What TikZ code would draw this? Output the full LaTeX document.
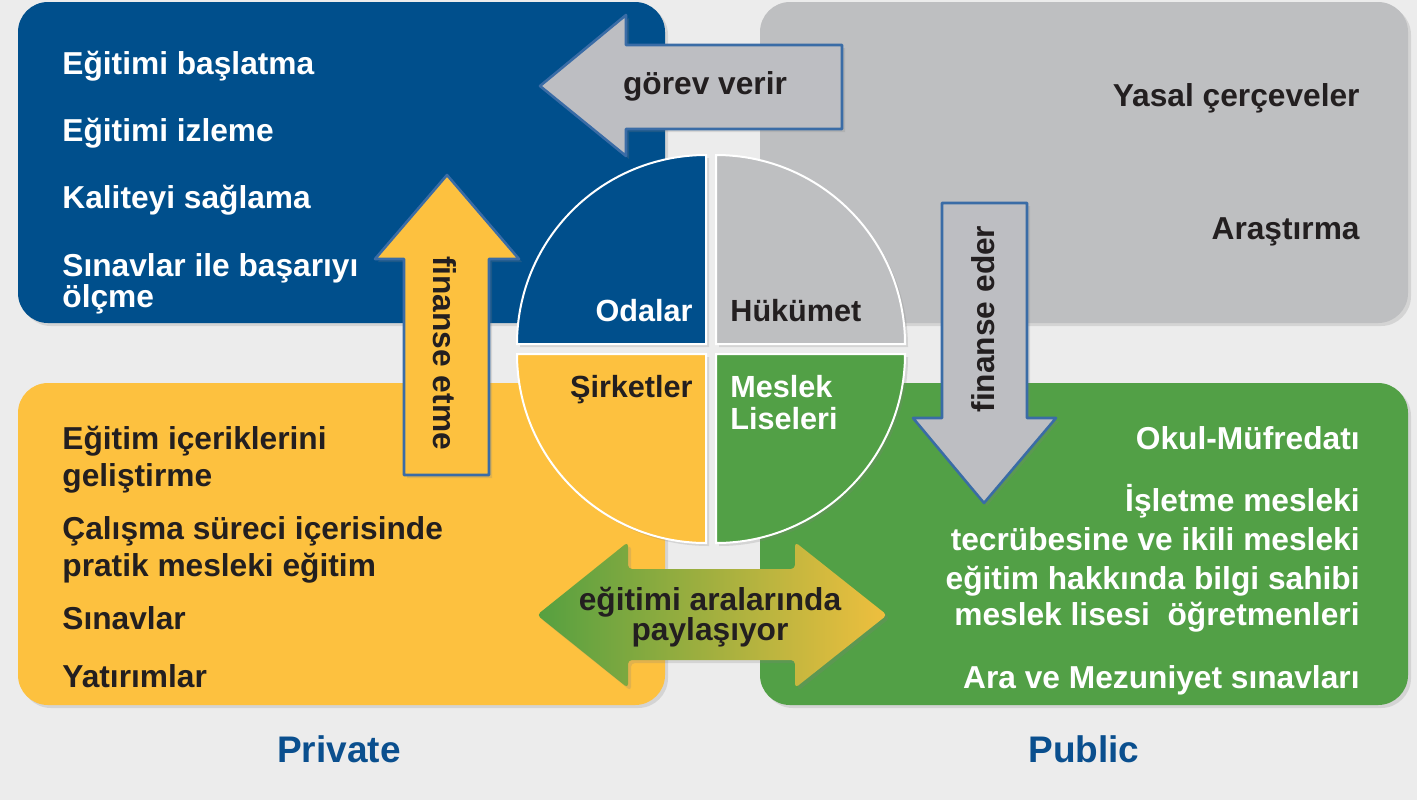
\documentclass[tikz,border=0pt]{standalone}
\usepackage{fontspec}
\setmainfont{Liberation Sans}
\usetikzlibrary{shadows}
\definecolor{bg}{HTML}{ECECEC}
\definecolor{cblue}{HTML}{004F8C}
\definecolor{cgray}{HTML}{BEBFC1}
\definecolor{cyellow}{HTML}{FDC13F}
\definecolor{cgreen}{HTML}{52A046}
\definecolor{aborder}{HTML}{3A6CA6}
\definecolor{agray}{HTML}{BDBEC2}
\definecolor{dtext}{HTML}{231F20}
\definecolor{lblue}{HTML}{0A4F8E}
\definecolor{dgreen}{HTML}{55A040}
\definecolor{dyellow}{HTML}{EFBF3E}
\tikzset{
  box/.style={rounded corners=15pt},
  txt/.style={font=\fontsize{15.85}{19}\selectfont\bfseries, inner sep=0pt},
  wtxt/.style={txt, text=white},
  dtxt/.style={txt, text=dtext},
  qtxt/.style={font=\fontsize{15.3}{19}\selectfont\bfseries, inner sep=0pt},
  ctxt/.style={font=\fontsize{18.5}{22}\selectfont\bfseries, inner sep=0pt, text=lblue},
  arrowshape/.style={draw=aborder, line width=1.3pt, line join=round},
  quad/.style={draw=white, line width=1pt},
  shadowed/.style={drop shadow={opacity=0.22, shadow xshift=1.5pt, shadow yshift=-1.5pt}}
}
\begin{document}
\begin{tikzpicture}[x=0.5pt,y=-0.5pt]
\useasboundingbox (0,0) rectangle (1417,800);
\fill[bg] (0,0) rectangle (1417,800);
% quadrant boxes
\fill[cblue,box,shadowed] (18,2) rectangle (665,323);
\fill[cgray,box,shadowed] (760,2) rectangle (1408,323);
\fill[cyellow,box,shadowed] (18,383) rectangle (665,705);
\fill[cgreen,box,shadowed] (760,383) rectangle (1408,705);
% circle
\filldraw[quad,fill=cblue,shadowed] (706,344) -- (706,155) arc[start angle=-90,end angle=-180,radius=189] -- cycle;
\filldraw[quad,fill=cgray,shadowed] (716,344) -- (716,155) arc[start angle=-90,end angle=0,radius=189] -- cycle;
\filldraw[quad,fill=cyellow,shadowed] (706,354) -- (706,543) arc[start angle=90,end angle=180,radius=189] -- cycle;
\filldraw[quad,fill=cgreen,shadowed] (716,354) -- (716,543) arc[start angle=90,end angle=0,radius=189] -- cycle;
% arrows
\filldraw[arrowshape,fill=agray,shadowed] (540,86) -- (626,15) -- (626,45) -- (842,45) -- (842,129) -- (626,129) -- (626,156) -- cycle;
\filldraw[arrowshape,fill=cyellow,shadowed] (447,175) -- (519,259) -- (489,259) -- (489,475) -- (404,475) -- (404,259) -- (375,259) -- cycle;
\filldraw[arrowshape,fill=agray,shadowed] (984,503) -- (1056,418) -- (1027,418) -- (1027,203) -- (942,203) -- (942,418) -- (913,418) -- cycle;
\shade[left color=dgreen,right color=dyellow,rounded corners=2pt,shadowed] (537,615) -- (628,542) -- (628,569) -- (795,569) -- (795,542) -- (887,615) -- (795,688) -- (795,660) -- (628,660) -- (628,688) -- cycle;
% arrow labels
\node[dtxt,anchor=base] (gorev) at (705,94) {görev verir};
\node[dtxt,rotate=-90] (fetme) at (445,353) {finanse etme};
\node[dtxt,rotate=90] (feder) at (983,319) {finanse eder};
\node[dtxt,anchor=base] (paylas1) at (710,610) {eğitimi aralarında};
\node[dtxt,anchor=base] (paylas2) at (710,640) {paylaşıyor};
% circle labels
\node[qtxt,text=white,anchor=base east] (odalar) at (693,321) {Odalar};
\node[qtxt,text=dtext,anchor=base west] (hukumet) at (730,321) {Hükümet};
\node[qtxt,text=dtext,anchor=base east] (sirketler) at (693,397) {Şirketler};
\node[qtxt,text=white,anchor=base west] (meslek1) at (730,397) {Meslek};
\node[qtxt,text=white,anchor=base west] (meslek2) at (730,429) {Liseleri};
% blue box texts
\node[wtxt,anchor=base west] (b1) at (62,74) {Eğitimi başlatma};
\node[wtxt,anchor=base west] (b2) at (62,141) {Eğitimi izleme};
\node[wtxt,anchor=base west] (b3) at (62,208) {Kaliteyi sağlama};
\node[wtxt,anchor=base west] (b4) at (62,276) {Sınavlar ile başarıyı};
\node[wtxt,anchor=base west] (b5) at (62,307) {ölçme};
% gray box texts
\node[dtxt,anchor=base east] (g1) at (1360,106) {Yasal çerçeveler};
\node[dtxt,anchor=base east] (g2) at (1360,239) {Araştırma};
% yellow box texts
\node[dtxt,anchor=base west] (y1) at (62,449) {Eğitim içeriklerini};
\node[dtxt,anchor=base west] (y2) at (62,486) {geliştirme};
\node[dtxt,anchor=base west] (y3) at (62,539) {Çalışma süreci içerisinde};
\node[dtxt,anchor=base west] (y4) at (62,576) {pratik mesleki eğitim};
\node[dtxt,anchor=base west] (y5) at (62,629) {Sınavlar};
\node[dtxt,anchor=base west] (y6) at (62,687) {Yatırımlar};
% green box texts
\node[wtxt,anchor=base east] (n1) at (1360,449) {Okul-Müfredatı};
\node[wtxt,anchor=base east] (n2) at (1360,511) {İşletme mesleki};
\node[wtxt,anchor=base east] (n3) at (1360,550) {tecrübesine ve ikili mesleki};
\node[wtxt,anchor=base east] (n4) at (1360,589) {eğitim hakkında bilgi sahibi};
\node[wtxt,anchor=base east] (n5) at (1360,625) {meslek lisesi\ \ öğretmenleri};
\node[wtxt,anchor=base east] (n6) at (1360,688) {Ara ve Mezuniyet sınavları};
% captions
\node[ctxt,anchor=base] (private) at (339,762) {Private};
\node[ctxt,anchor=base] (public) at (1084,762) {Public};
\end{tikzpicture}
\end{document}
